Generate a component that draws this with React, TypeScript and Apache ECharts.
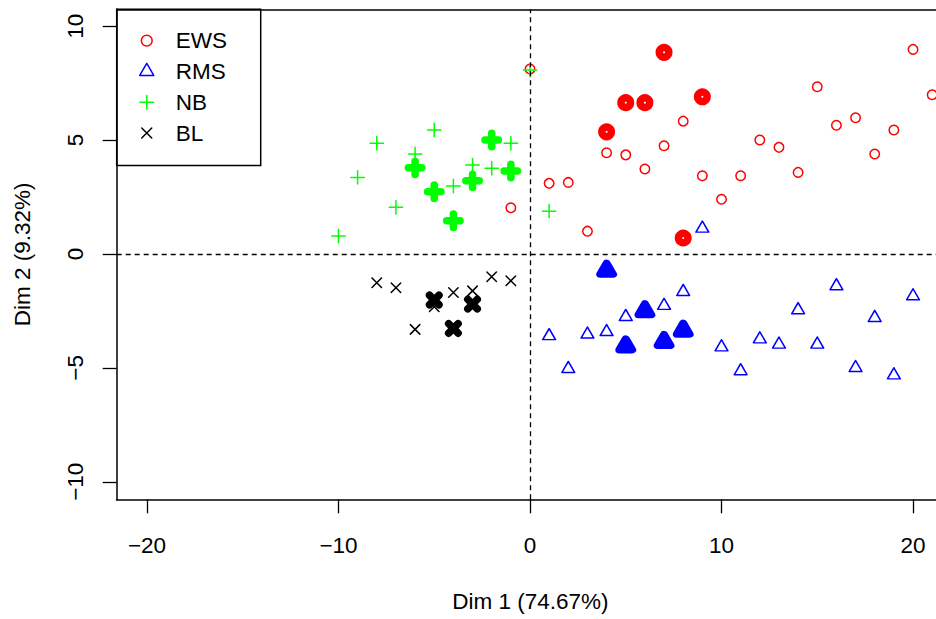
import React, { useEffect, useRef } from "react";
import * as echarts from "echarts";

const EWS_POINTS: [number, number][] = [[0, 8.12], [-1, 2.03], [1, 3.1], [2, 3.14], [3, 1.0], [4, 4.44], [5, 4.35], [6, 3.73], [7, 4.75], [8, 5.83], [9, 3.43], [10, 2.4], [11, 3.43], [12, 5.0], [13, 4.68], [14, 3.58], [15, 7.34], [16, 5.65], [17, 5.98], [18, 4.39], [19, 5.44], [20, 8.98], [21, 6.99]];
const EWS_BOLD: [number, number][] = [[7, 8.85], [5, 6.64], [6, 6.64], [9, 6.9], [4, 5.36], [8, 0.7]];
const RMS_POINTS: [number, number][] = [[1, -3.6], [2, -5.04], [3, -3.53], [4, -3.42], [5, -2.76], [7, -2.27], [8, -1.66], [9, 1.12], [10, -4.09], [11, -5.14], [12, -3.74], [13, -3.97], [14, -2.46], [15, -3.97], [16, -1.41], [17, -5.0], [18, -2.8], [19, -5.32], [20, -1.85]];
const RMS_BOLD: [number, number][] = [[4, -0.73], [6, -2.51], [5, -4.05], [7, -3.86], [8, -3.36]];
const NB_POINTS: [number, number][] = [[0, 8.07], [-5, 5.44], [-8, 4.86], [-6, 4.39], [-1, 4.86], [-3, 3.9], [-2, 3.76], [-9, 3.36], [-4, 2.98], [-7, 2.05], [-10, 0.79], [1, 1.88]];
const NB_BOLD: [number, number][] = [[-2, 5.0], [-6, 3.78], [-1, 3.64], [-3, 3.21], [-5, 2.73], [-4, 1.46]];
const BL_POINTS: [number, number][] = [[-8, -1.26], [-7, -1.48], [-6, -3.31], [-4, -1.69], [-3, -1.62], [-2, -1.0], [-1, -1.18], [-5, -2.32]];
const BL_BOLD: [number, number][] = [[-5, -2.02], [-3, -2.2], [-4, -3.27]];

const X_TICKS = [-20, -10, 0, 10, 20];
const Y_TICKS = [-10, -5, 0, 5, 10];
const GROUPS = ["EWS", "RMS", "NB", "BL"];
const X_TITLE = "Dim 1 (74.67%)";
const Y_TITLE = "Dim 2 (9.32%)";

const FONT = "Liberation Sans, Arial, Helvetica, sans-serif";
const FS = 22.5;

const PLUS = "path://M-1,0L1,0M0,-1L0,1";
const CROSS = "path://M-1,-1L1,1M-1,1L1,-1";

// legend icons share one padded 3.4 x 3.4 box so that their relative sizes are kept
const PAD = "M-1.7,-1.7M1.7,1.7";
const LEGEND_ICONS: Record<string, string> = {
  EWS: "path://" + PAD + "M-1.08,0A1.08,1.08,0,1,0,1.08,0A1.08,1.08,0,1,0,-1.08,0Z",
  RMS: "path://" + PAD + "M0,-1.617L1.401,0.809L-1.401,0.809Z",
  NB: "path://" + PAD + "M-1.35,0L1.35,0M0,-1.35L0,1.35",
  BL: "path://" + PAD + "M-1,-1L1,1M-1,1L1,-1",
};

const STYLES: Record<string, { symbol: string; size: number | number[]; offset: number[]; color: string }> = {
  EWS: { symbol: "circle", size: 9.5, offset: [0, 0], color: "#FF0000" },
  RMS: { symbol: "triangle", size: [12.8, 11.1], offset: [0, -1.85], color: "#0000FF" },
  NB: { symbol: PLUS, size: 13.4, offset: [0, 0], color: "#00FF00" },
  BL: { symbol: CROSS, size: 9.5, offset: [0, 0], color: "#000000" },
};

const fmt = (v: number) => (v < 0 ? "\u2212" + Math.abs(v) : String(v));

function makeSeries(name: string, data: [number, number][], bold: boolean) {
  const s = STYLES[name];
  return {
    type: "scatter",
    name: bold ? name + " (bold)" : name,
    data,
    symbol: s.symbol,
    symbolSize: s.size,
    symbolOffset: s.offset,
    itemStyle: {
      color: "none",
      borderColor: s.color,
      borderWidth: bold ? 7.5 : 1.5,
      borderCap: "round",
      borderJoin: "round",
      opacity: 1,
    },
    emphasis: { disabled: true },
    silent: true,
  };
}

export default function App() {
  const ref = useRef<HTMLDivElement>(null);
  useEffect(() => {
    if (!ref.current) return;
    const chart = echarts.init(ref.current, null, { renderer: "svg" });
    const series: any[] = [
      makeSeries("EWS", EWS_POINTS, false),
      makeSeries("RMS", RMS_POINTS, false),
      makeSeries("NB", NB_POINTS, false),
      makeSeries("BL", BL_POINTS, false),
      makeSeries("EWS", EWS_BOLD, true),
      makeSeries("RMS", RMS_BOLD, true),
      makeSeries("NB", NB_BOLD, true),
      makeSeries("BL", BL_BOLD, true),
    ];
    series[0].markLine = {
      silent: true,
      symbol: ["none", "none"],
      label: { show: false },
      lineStyle: { type: [5, 4], color: "#000", width: 1.3 },
      emphasis: { disabled: true },
      data: [{ xAxis: 0 }, { yAxis: 0 }],
    };
    const frameLine = { show: true, onZero: false, lineStyle: { color: "#000", width: 1.5, cap: "square" } };
    const XMIN = -21.58;
    const XMAX = 21.2;
    chart.setOption({
      animation: false,
      textStyle: { fontFamily: FONT },
      grid: {
        show: false,
        left: 116.7,
        right: 0,
        top: 9.3,
        bottom: 119.7,
      },
      legend: {
        orient: "vertical",
        left: 116.7,
        top: 9.3,
        selectedMode: false,
        itemWidth: 48,
        itemHeight: 17,
        itemGap: 7.8,
        padding: [19.85, 33.7, 21, 19.05],
        borderColor: "#000",
        borderWidth: 1.5,
        textStyle: { fontSize: FS, color: "#000", fontFamily: FONT, lineHeight: 22 },
        data: GROUPS.map((g) => ({
          name: g,
          icon: LEGEND_ICONS[g],
          itemStyle: { color: "none", borderColor: STYLES[g].color, borderWidth: 1.5 },
        })),
      },
      xAxis: [
        {
          type: "value",
          position: "bottom",
          min: XMIN,
          max: XMAX,
          axisLine: frameLine,
          splitLine: { show: false },
          name: X_TITLE,
          nameLocation: "middle",
          nameGap: 90.7,
          nameTextStyle: { fontSize: FS, color: "#000", fontFamily: FONT, padding: [0, 0, 0, 8] },
          axisTick: { show: true, inside: false, length: 14, lineStyle: { color: "#000", width: 1.3 }, customValues: X_TICKS },
          axisLabel: { customValues: X_TICKS, formatter: fmt, fontSize: FS, color: "#000", fontFamily: FONT, margin: 34.7 },
        },
        {
          type: "value",
          position: "top",
          min: XMIN,
          max: XMAX,
          axisLine: frameLine,
          splitLine: { show: false },
          axisTick: { show: false },
          axisLabel: { show: false },
        },
      ],
      yAxis: {
        type: "value",
        min: -10.77,
        max: 10.74,
        axisLine: frameLine,
        splitLine: { show: false },
        name: Y_TITLE,
        nameLocation: "middle",
        nameGap: 83,
        nameTextStyle: { fontSize: FS, color: "#000", fontFamily: FONT },
        axisTick: { show: true, inside: false, length: 14, lineStyle: { color: "#000", width: 1.3 }, customValues: Y_TICKS },
        axisLabel: { customValues: Y_TICKS, formatter: fmt, fontSize: FS, color: "#000", fontFamily: FONT, margin: 30, rotate: 90 },
      },
      series,
    });
    return () => chart.dispose();
  }, []);
  return <div ref={ref} style={{ position: "absolute", left: 0, top: 0, width: 936, height: 619 }} />;
}
